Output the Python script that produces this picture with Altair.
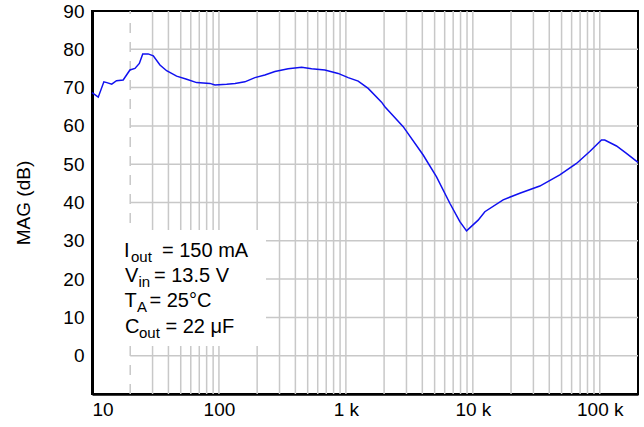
import altair as alt
import pandas as pd

# ---- data ----
freq_hz = [10, 11.2, 12.4, 13.1, 14.3, 15.6, 17.6, 19.9, 21.8, 23.6,
           25.1, 27.7, 30.4, 34.3, 38.7, 46.4, 55.7, 66.7, 84.9, 93,
           115, 134, 160, 192, 230, 276, 351, 448, 537, 683,
           869, 1042, 1250, 1498, 1910, 2028, 2827, 4062, 5177, 6590,
           7902, 8922, 11010, 12430, 17320, 23440, 33700, 48420, 65540, 83370,
           103100, 109400, 135400, 162200, 200000]
mag_db = [68.7, 67.5, 71.5, 71.3, 70.9, 71.8, 72.0, 74.6, 75.0, 76.3,
          78.8, 78.8, 78.3, 75.9, 74.4, 73.0, 72.2, 71.3, 71.1, 70.7,
          70.9, 71.1, 71.5, 72.6, 73.3, 74.2, 74.9, 75.3, 74.9, 74.6,
          73.7, 72.6, 71.7, 69.8, 66.2, 65.0, 59.8, 52.4, 46.7, 39.8,
          35.0, 32.6, 35.4, 37.6, 40.7, 42.4, 44.3, 47.2, 50.2, 53.3,
          56.3, 56.3, 54.75, 52.85, 50.5]

x_tick_values = [10, 100, 1000, 10000, 100000]
y_tick_values = [0, 10, 20, 30, 40, 50, 60, 70, 80, 90]
v_grid = [30, 40, 50, 60, 70, 80, 90, 100,
          200, 300, 400, 500, 600, 700, 800, 900, 1000,
          2000, 3000, 4000, 5000, 6000, 7000, 8000, 9000, 10000,
          20000, 30000, 40000, 50000, 60000, 70000, 80000, 90000, 100000]
v_grid_dashed = [20]
h_grid = [0, 10, 20, 30, 40, 50, 60, 70, 80]
h_grid_start = 20
h_grid_end = 200000

FONT = "Liberation Sans"
GRID = "#c8c8c8"

xs = alt.Scale(type="log", domain=[10, 200000], nice=False)
ys = alt.Scale(domain=[-10, 90], nice=False, zero=False)

x_axis = alt.Axis(
    values=x_tick_values, grid=False, ticks=False, title=None,
    labelExpr="datum.value >= 1000 ? format(datum.value/1000, 'd') + ' k' : format(datum.value, 'd')",
    labelFlush=True, labelPadding=6, labelFontSize=19, labelFont=FONT,
    labelColor="black", domainColor="black", domainWidth=2.5,
)
y_axis = alt.Axis(
    values=y_tick_values, grid=False, ticks=False, title="MAG (dB)",
    labelPadding=8, labelFontSize=19, labelFont=FONT, labelColor="black",
    domainColor="black", domainWidth=3,
    titleFont=FONT, titleFontSize=19, titleFontWeight="normal",
    titleColor="black", titleX=-69, titleY=191.5, titleAngle=270,
    titleAlign="center", titleBaseline="middle",
)

curve_df = pd.DataFrame({"f": freq_hz, "db": mag_db})
vg_df = pd.DataFrame({"f": v_grid, "db": [-10] * len(v_grid),
                      "db2": [90] * len(v_grid)})
vgd_df = pd.DataFrame({"f": v_grid_dashed, "db": [-10], "db2": [90]})
hg_df = pd.DataFrame({"db": h_grid, "f": [h_grid_start] * len(h_grid),
                      "f2": [h_grid_end] * len(h_grid)})

vgrid = alt.Chart(vg_df).mark_rule(color=GRID, strokeWidth=1.5).encode(
    x=alt.X("f:Q", scale=xs, axis=x_axis),
    y=alt.Y("db:Q", scale=ys, axis=y_axis),
    y2="db2:Q",
)
vgrid_d = alt.Chart(vgd_df).mark_rule(color=GRID, strokeWidth=1.5,
                                      strokeDash=[10, 9]).encode(
    x=alt.X("f:Q", scale=xs, axis=x_axis),
    y=alt.Y("db:Q", scale=ys, axis=y_axis),
    y2="db2:Q",
)
hgrid = alt.Chart(hg_df).mark_rule(color=GRID, strokeWidth=1.5).encode(
    x=alt.X("f:Q", scale=xs, axis=x_axis),
    x2="f2:Q",
    y=alt.Y("db:Q", scale=ys, axis=y_axis),
)

box = alt.Chart(pd.DataFrame({"a": [0]})).mark_rect(color="white").encode(
    x=alt.value(23), x2=alt.value(174), y=alt.value(219), y2=alt.value(335)
)


def txt(s, x, y, size):
    return alt.Chart(pd.DataFrame({"t": [s]})).mark_text(
        align="left", baseline="alphabetic", font=FONT, fontSize=size,
        color="black"
    ).encode(text="t:N", x=alt.value(x), y=alt.value(y))


MAIN = 20
SUB = 15
annot = [
    txt("I", 124 - 92, 257 - 11, MAIN),
    txt("out", 131 - 92, 262 - 11, SUB),
    txt("= 150 mA", 162 - 92, 257 - 11, MAIN),
    txt("V", 125 - 92, 282 - 11, MAIN),
    txt("in", 138.5 - 92, 287 - 11, SUB),
    txt("= 13.5 V", 154 - 92, 282 - 11, MAIN),
    txt("T", 124.5 - 92, 307 - 11, MAIN),
    txt("A", 137 - 92, 312 - 11, SUB),
    txt("= 25°C", 149.5 - 92, 307 - 11, MAIN),
    txt("C", 125 - 92, 333 - 11, MAIN),
    txt("out", 139 - 92, 338 - 11, SUB),
    txt("= 22 μF", 165.5 - 92, 333 - 11, MAIN),
]

curve = alt.Chart(curve_df).mark_line(color="#1010f0", strokeWidth=1.5).encode(
    x=alt.X("f:Q", scale=xs, axis=x_axis),
    y=alt.Y("db:Q", scale=ys, axis=y_axis),
    order=alt.Order("f:Q"),
)

chart = alt.layer(vgrid, vgrid_d, hgrid, box, curve, *annot).properties(
    width=546, height=383,
    autosize=alt.AutoSizeParams(type="none"),
    padding={"left": 92, "top": 11, "right": 6, "bottom": 33},
    background="white",
).configure_view(stroke="black", strokeWidth=2)

chart.save("out.html", embed_options={"renderer": "svg", "actions": False})
